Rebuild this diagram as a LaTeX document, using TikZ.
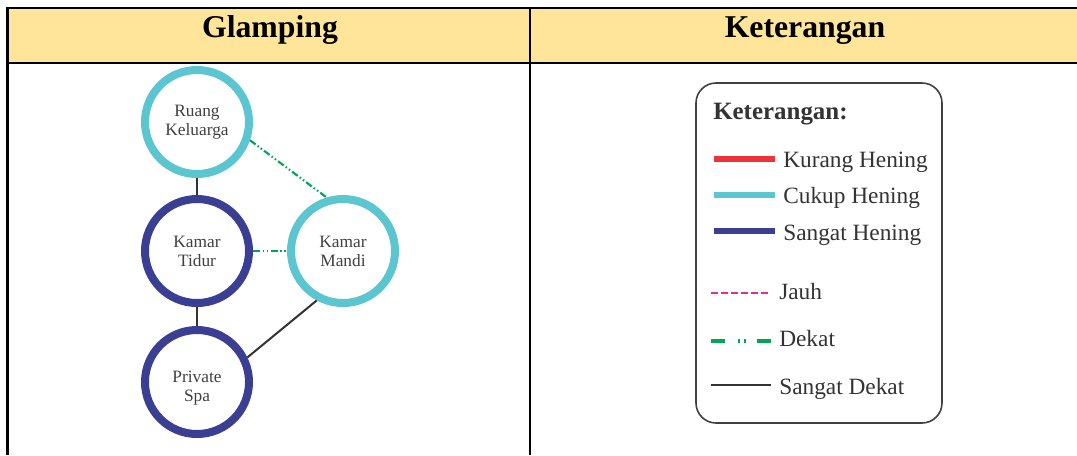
\documentclass[tikz,border=0pt]{standalone}
\usepackage{fontspec}
\setmainfont{Liberation Serif}
\definecolor{hdrfill}{HTML}{FFE599}
\definecolor{cyanring}{HTML}{5BC6D0}
\definecolor{navyring}{HTML}{3B3F94}
\definecolor{redline}{HTML}{EE3338}
\definecolor{magline}{HTML}{EC2A8C}
\definecolor{greenline}{HTML}{00A651}
\definecolor{darkline}{HTML}{333333}
\definecolor{txtgray}{HTML}{404040}
\tikzset{
  room/.style={circle, draw, line width=6pt, minimum size=78pt, inner sep=0pt, fill=white},
  roomtext/.style={align=center, text=txtgray, inner sep=0pt, font=\fontsize{13}{14.25}\selectfont},
  cukup/.style={room, draw=cyanring},
  sangat/.style={room, draw=navyring},
  verynear/.style={draw=darkline, line width=1.5pt},
  near/.style={draw=greenline, line width=1.6pt,
    dash pattern=on 5.25pt off 1.9pt on 1.1pt off 1.9pt on 1.1pt off 1.9pt},
  tableline/.style={draw=black, line width=1.6pt},
  hdr/.style={anchor=base, font=\fontsize{23.8}{26}\selectfont\bfseries},
  legtitle/.style={anchor=base west, text=darkline, font=\fontsize{18.7}{20}\selectfont\bfseries},
  legtext/.style={anchor=base west, text=darkline, font=\fontsize{17.5}{19}\selectfont, inner sep=0pt},
  legbar/.style={line width=4.5pt},
}
\begin{document}
\begin{tikzpicture}[x=0.75pt,y=-0.75pt]
\useasboundingbox (0,0) rectangle (1077,455);
% table
\fill[hdrfill] (7,8) rectangle (1077,63);
\draw[tableline] (7,8) -- (1077,8);
\draw[tableline] (7,63) -- (1077,63);
\draw[tableline] (7.5,7.2) -- (7.5,455);
\draw[tableline] (530,7.2) -- (530,455);
\node[hdr] (h1) at (270,37) {Glamping};
\node[hdr] (h2) at (805,37) {Keterangan};
% rooms
\node[cukup]  (rk) at (197,122) {};
\node[sangat] (kt) at (197,251) {};
\node[cukup]  (km) at (343,251) {};
\node[sangat] (ps) at (197,382) {};
\node[roomtext] (rkt) at (197,122) {Ruang\\Keluarga};
\node[roomtext] (ktt) at (197,251) {Kamar\\Tidur};
\node[roomtext] (kmt) at (343,251) {Kamar\\Mandi};
\node[roomtext] (pst) at (197,388) {Private\\Spa};
\draw[verynear] (rk.south) -- (kt.north);
\draw[verynear] (kt.south) -- (ps.north);
\draw[verynear] (ps.26) -- (km.242);
\draw[near] (rk.-19) -- (km.107);
\draw[near] (kt.east) -- (km.west);
% legend
\draw[draw=txtgray, line width=1.2pt, rounded corners=15pt] (696,83) rectangle (942,423);
\node[legtitle, inner sep=0pt] (lt) at (713,119) {Keterangan:};
\coordinate (r1) at (714,159); \coordinate (r2) at (775,159);
\draw[legbar, redline] (r1) -- (r2);
\node[legtext] (t1) at (783,167) {Kurang Hening};
\coordinate (c1) at (714,195); \coordinate (c2) at (775,195);
\draw[legbar, cyanring] (c1) -- (c2);
\node[legtext] (t2) at (783,203) {Cukup Hening};
\coordinate (n1) at (714,231); \coordinate (n2) at (775,231);
\draw[legbar, navyring] (n1) -- (n2);
\node[legtext] (t3) at (783,240) {Sangat Hening};
\coordinate (j1) at (711,293); \coordinate (j2) at (769,293);
\draw[magline, line width=2.2pt, dash pattern=on 5.25pt off 2.25pt] (j1) -- (j2);
\node[legtext] (t4) at (779,299) {Jauh};
\coordinate (d1) at (711,341); \coordinate (d2) at (771,341);
\draw[greenline, line width=2.4pt, dash pattern=on 10.5pt off 9.75pt on 1.5pt off 3pt on 1.5pt off 8.25pt] (d1) -- (d2);
\node[legtext] (t5) at (779,346) {Dekat};
\coordinate (s1) at (711,385); \coordinate (s2) at (771,385);
\draw[darkline, line width=2.2pt] (s1) -- (s2);
\node[legtext] (t6) at (779,394) {Sangat Dekat};
\end{tikzpicture}
\end{document}
